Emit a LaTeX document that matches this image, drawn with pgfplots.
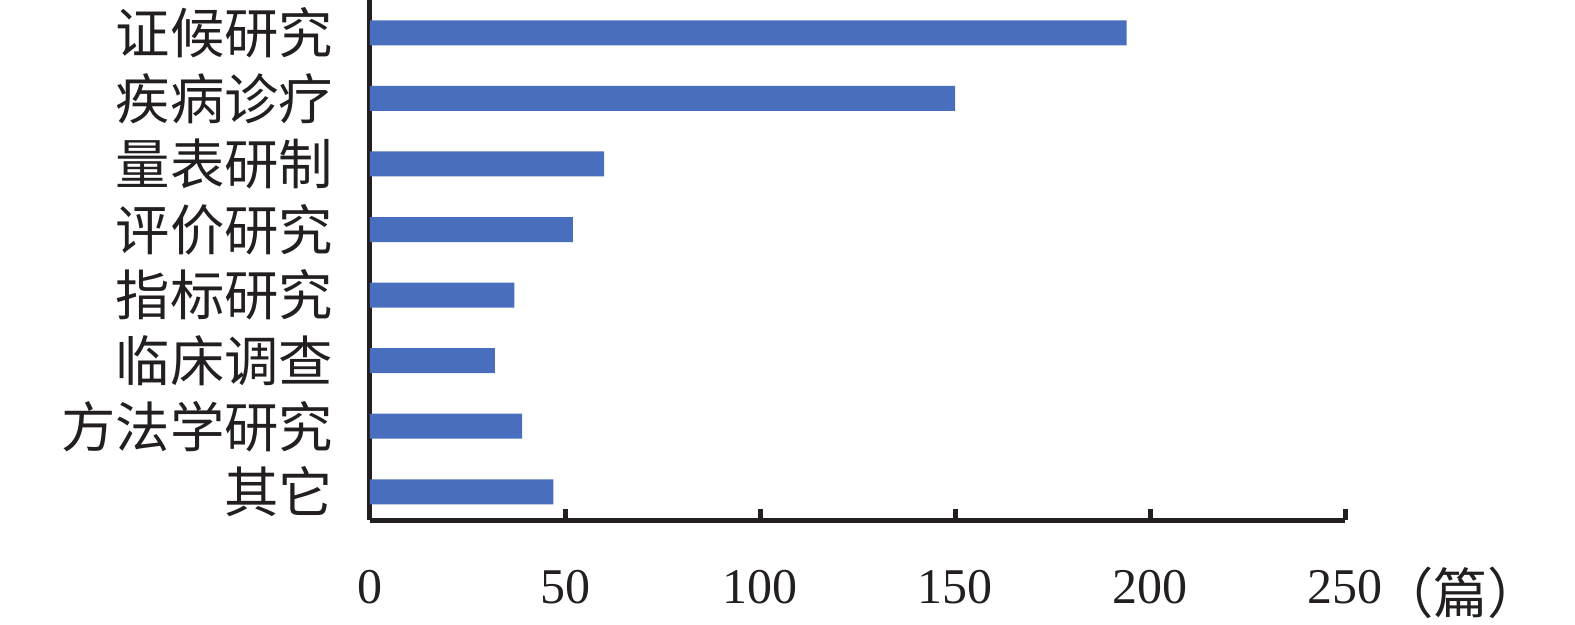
\documentclass[border=0pt]{standalone}
\usepackage{fontspec}
\setmainfont{Liberation Serif}
\newfontfamily\cjk{Noto Sans CJK SC}
\usepackage{pgfplots}
\pgfplotsset{compat=1.18}
\definecolor{barblue}{RGB}{74,110,190}
\definecolor{axblack}{RGB}{35,31,32}
\begin{document}
\begin{tikzpicture}[x=1pt,y=1pt]
\begin{axis}[
  at={(0,0)}, anchor=south west,
  scale only axis,
  width=292.5pt, height=156pt,
  xmin=0, xmax=250, ymin=-0.43, ymax=7.5,
  axis x line=bottom, axis y line=left,
  axis line style={-, line width=1.5pt, color=axblack},
  xtick={0,50,100,150,200,250},
  xticklabels={0,50,100,150,200,250},
  tick align=inside,
  major tick length=3.2pt,
  x tick style={line width=1.5pt, color=axblack},
  y tick style={draw=none},
  ytick={0,...,7},
  yticklabels={其它,方法学研究,临床调查,指标研究,评价研究,量表研制,疾病诊疗,证候研究},
  yticklabel style={font=\cjk\fontsize{16.3}{19}\selectfont, text=axblack, xshift=-7.5pt},
  xticklabel style={font=\fontsize{15}{18}\selectfont, text=axblack, yshift=-11.5pt},
  clip=false,
]
\addplot[xbar, bar width=7.5pt, fill=barblue, draw=none] coordinates {
  (47,0) (39,1) (32,2) (37,3) (52,4) (60,5) (150,6) (194,7)
};
\node[anchor=west, font=\cjk\fontsize{16.3}{19}\selectfont, text=axblack, inner sep=0pt] at ([xshift=10pt,yshift=-22pt]axis cs:250,-0.43) {（篇）};
\end{axis}
\pgfresetboundingbox
\path (-111,-31.2) rectangle (361.5,156);
\end{tikzpicture}
\end{document}
